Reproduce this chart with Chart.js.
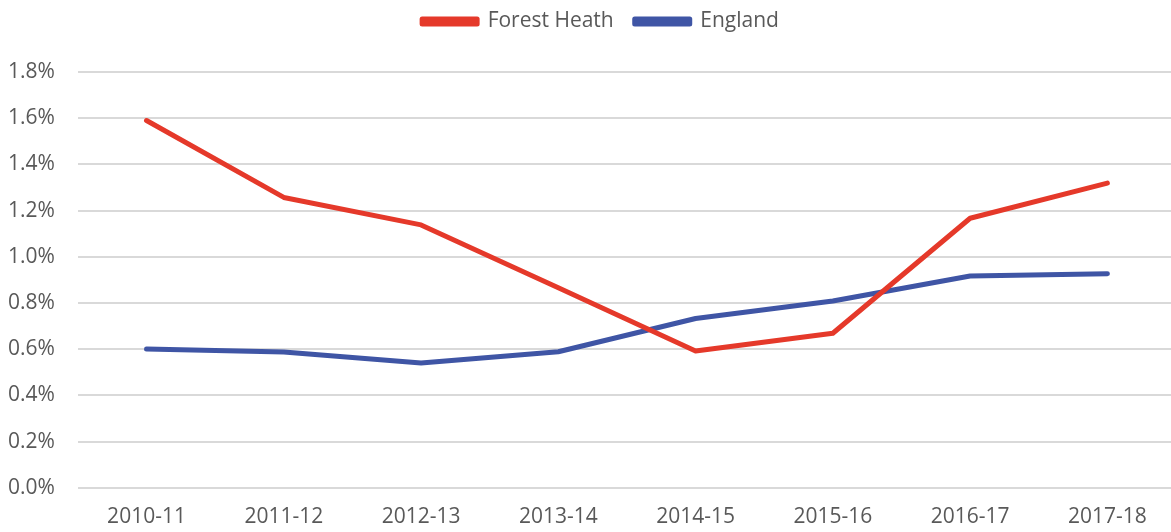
<!DOCTYPE html>
<html>
<head>
<meta charset="utf-8">
<script src="https://cdn.jsdelivr.net/npm/chart.js@4/dist/chart.umd.min.js"></script>
<style>
  html, body { margin: 0; padding: 0; background: #fff; overflow: hidden; }
  #wrap { width: 1176px; height: 532px; }
</style>
</head>
<body>
<div id="wrap"><canvas id="c" width="1176" height="532"></canvas></div>
<script>
const categories = ["2010-11", "2011-12", "2012-13", "2013-14", "2014-15", "2015-16", "2016-17", "2017-18"];
const forestHeath = [1.59, 1.257, 1.138, 0.866, 0.592, 0.669, 1.167, 1.319];
const england = [0.601, 0.588, 0.540, 0.589, 0.733, 0.809, 0.917, 0.927];
const seriesNames = ["Forest Heath", "England"];
const yTicks = [0, 0.2, 0.4, 0.6, 0.8, 1.0, 1.2, 1.4, 1.6, 1.8];

const RED = "#E5392A";
const BLUE = "#3F55A5";
const TEXT = "#595959";
const FONT = "'Open Sans', 'Liberation Sans', sans-serif";

const legendSpacing = {
  id: "legendSpacing",
  beforeInit(chart) {
    const origFit = chart.legend.fit;
    chart.legend.fit = function () {
      origFit.call(this);
      this.height += 30;
    };
  },
  afterLayout(chart) {
    chart.legend.left += 20;
    chart.legend.right += 20;
  }
};

new Chart(document.getElementById("c"), {
  type: "line",
  data: {
    labels: categories,
    datasets: [
      { label: seriesNames[0], data: forestHeath, borderColor: RED, backgroundColor: RED,
        borderWidth: 5, pointRadius: 0, tension: 0, borderCapStyle: "round", borderJoinStyle: "round" },
      { label: seriesNames[1], data: england, borderColor: BLUE, backgroundColor: BLUE,
        borderWidth: 5, pointRadius: 0, tension: 0, borderCapStyle: "round", borderJoinStyle: "round" }
    ]
  },
  options: {
    responsive: false,
    animation: false,
    layout: { padding: { left: -15, right: 0, top: -10, bottom: -15 } },
    plugins: {
      tooltip: { enabled: false },
      legend: {
        position: "top",
        labels: {
          boxWidth: 55,
          boxHeight: 5,
          padding: 21,
          color: TEXT,
          font: { family: FONT, size: 21 }
        }
      }
    },
    scales: {
      x: {
        offset: true,
        grid: { display: false, drawTicks: false },
        border: { display: false },
        ticks: { color: TEXT, font: { family: FONT, size: 21 }, padding: 17, maxRotation: 0 }
      },
      y: {
        min: 0,
        max: 1.8,
        afterBuildTicks: (axis) => { axis.ticks = yTicks.map(v => ({ value: v })); },
        grid: { color: "#D9D9D9", lineWidth: 2, drawTicks: false },
        border: { display: false },
        ticks: {
          color: TEXT,
          font: { family: FONT, size: 21 },
          padding: 23,
          callback: (v) => Number(v).toFixed(1) + "%"
        }
      }
    }
  },
  plugins: [legendSpacing]
});
</script>
</body>
</html>
